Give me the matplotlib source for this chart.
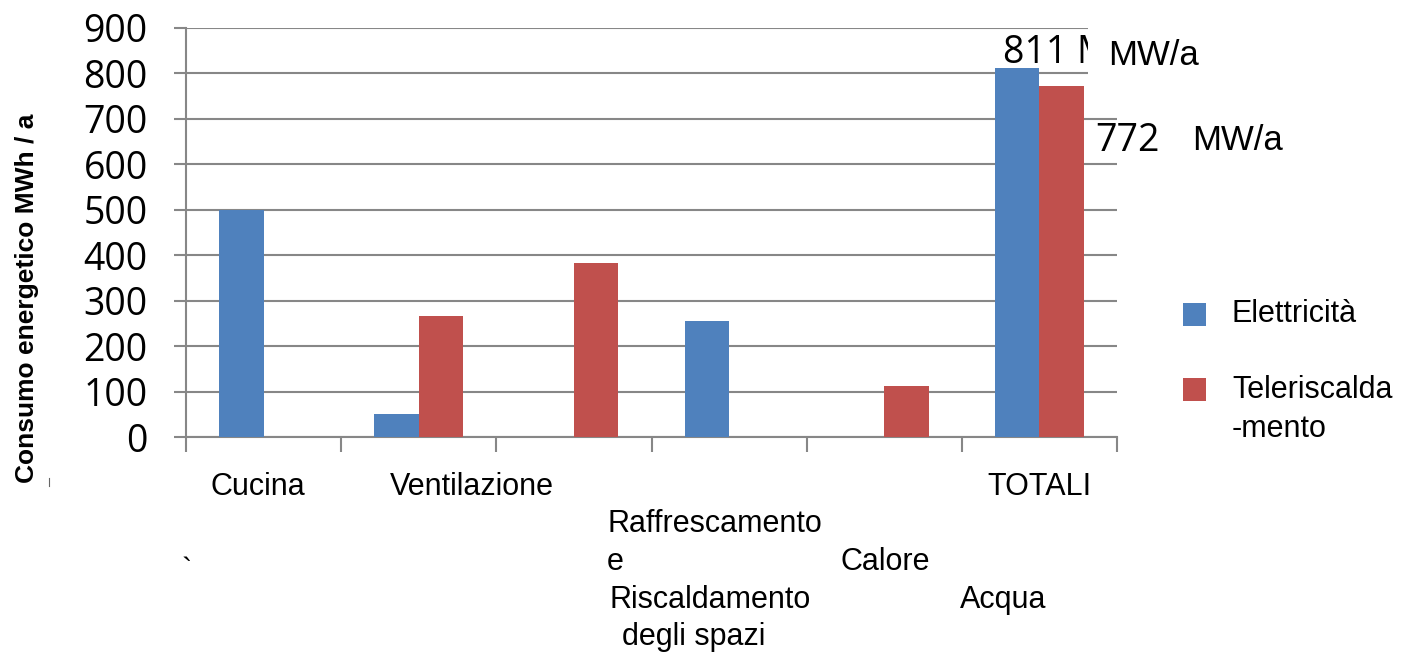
import matplotlib
matplotlib.use("Agg")
import matplotlib.pyplot as plt
from matplotlib.patches import Rectangle
from matplotlib.lines import Line2D
import numpy as np

# Energy consumption per end use (MWh / a)
categories = ["Cucina", "Ventilazione", "Riscaldamento", "Raffrescamento", "Calore Acqua", "TOTALI"]
elettricita = [500, 50, 0, 255, 0, 811]
teleriscaldamento = [0, 266, 383, 0, 112, 772]
series_names = ["Elettricità", "Teleriscalda\n-mento"]
yticks = [0, 100, 200, 300, 400, 500, 600, 700, 800, 900]

BLUE = "#4F81BD"
RED = "#C0504D"
GRID = "#878787"

W, H = 1404, 653
fig = plt.figure(figsize=(W / 100, H / 100), dpi=100)
fig.patch.set_facecolor("white")


def fx(x):
    return x / W


def fy(y):
    return 1 - y / H


ax = fig.add_axes([fx(186), fy(437), (1117 - 186) / W, (437 - 28) / H])

x = np.arange(len(categories))
w = 1 / 3.5
ax.bar(x - w / 2, elettricita, width=w, color=BLUE, zorder=3)
ax.bar(x + w / 2, teleriscaldamento, width=w, color=RED, zorder=3)

ax.set_xlim(-0.5, len(categories) - 0.5)
ax.set_ylim(0, 900)
ax.set_yticks(yticks)
ax.set_yticklabels([str(v) for v in yticks], fontsize=27, family="Open Sans")
ax.tick_params(axis="y", length=8.6, width=1.5, color=GRID, pad=19)
ax.yaxis.grid(True, color=GRID, linewidth=1.5, zorder=0)
ax.set_axisbelow(True)

ax.set_xticks(np.arange(-0.5, len(categories)))
ax.set_xticklabels([])
ax.tick_params(axis="x", length=11, width=1.5, color=GRID)

for side in ("top", "right"):
    ax.spines[side].set_visible(False)
for side in ("left", "bottom"):
    ax.spines[side].set_color(GRID)
    ax.spines[side].set_linewidth(1.5)

# Axis title
fig.text(fx(27), fy(298), "Consumo energetico MWh / a", rotation=90,
         ha="center", va="center", fontsize=19, fontweight="bold",
         family="Liberation Sans")
fig.add_artist(Line2D([fx(49), fx(49)], [fy(478), fy(486)],
                      transform=fig.transFigure, color="#666666", linewidth=0.8))

# Category labels
lab = dict(fontsize=22, family="Liberation Sans", va="baseline")
fig.text(fx(258), fy(495), "Cucina", ha="center", **lab)
fig.text(fx(472), fy(495), "Ventilazione", ha="center", **lab)
fig.text(fx(1039), fy(495), "TOTALI", ha="center", **lab)
fig.text(fx(607), fy(532), "Raffrescamento", ha="left", **lab)
fig.text(fx(607), fy(570), "e", ha="left", **lab)
fig.text(fx(610), fy(608), "Riscaldamento", ha="left", **lab)
fig.text(fx(622), fy(645), "degli spazi", ha="left", **lab)
fig.text(fx(840), fy(570), "Calore", ha="left", **lab)
fig.text(fx(960), fy(608), "Acqua", ha="left", **lab)
fig.text(fx(187), fy(580), "`", ha="center", **lab)

# Value annotations for the totals
fig.text(fx(1003), fy(63), f"{elettricita[-1]} M", ha="left", va="baseline",
         fontsize=27, family="Open Sans")
fig.add_artist(Rectangle((fx(1088), fy(84)), (1215 - 1088) / W, (84 - 16) / H,
                         transform=fig.transFigure, facecolor="white",
                         edgecolor="none", zorder=5))
fig.text(fx(1108), fy(65), "MW/a", ha="left", va="baseline", fontsize=25,
         family="Liberation Sans", zorder=6)
fig.text(fx(1095), fy(151), f"{teleriscaldamento[-1]}", ha="left", va="baseline",
         fontsize=27, family="Open Sans")
fig.text(fx(1192), fy(150), "MW/a", ha="left", va="baseline", fontsize=25,
         family="Liberation Sans")

# Legend
for (top, name, color, base) in [(303, series_names[0], BLUE, 322),
                                 (378, series_names[1], RED, 398)]:
    fig.add_artist(Rectangle((fx(1183), fy(top + 23)), 23 / W, 23 / H,
                             transform=fig.transFigure, facecolor=color,
                             edgecolor="none"))
    for i, line in enumerate(name.split("\n")):
        fig.text(fx(1232), fy(base + 39 * i), line, ha="left", va="baseline",
                 fontsize=22, family="Liberation Sans")

fig.savefig("out.png", dpi=100)
